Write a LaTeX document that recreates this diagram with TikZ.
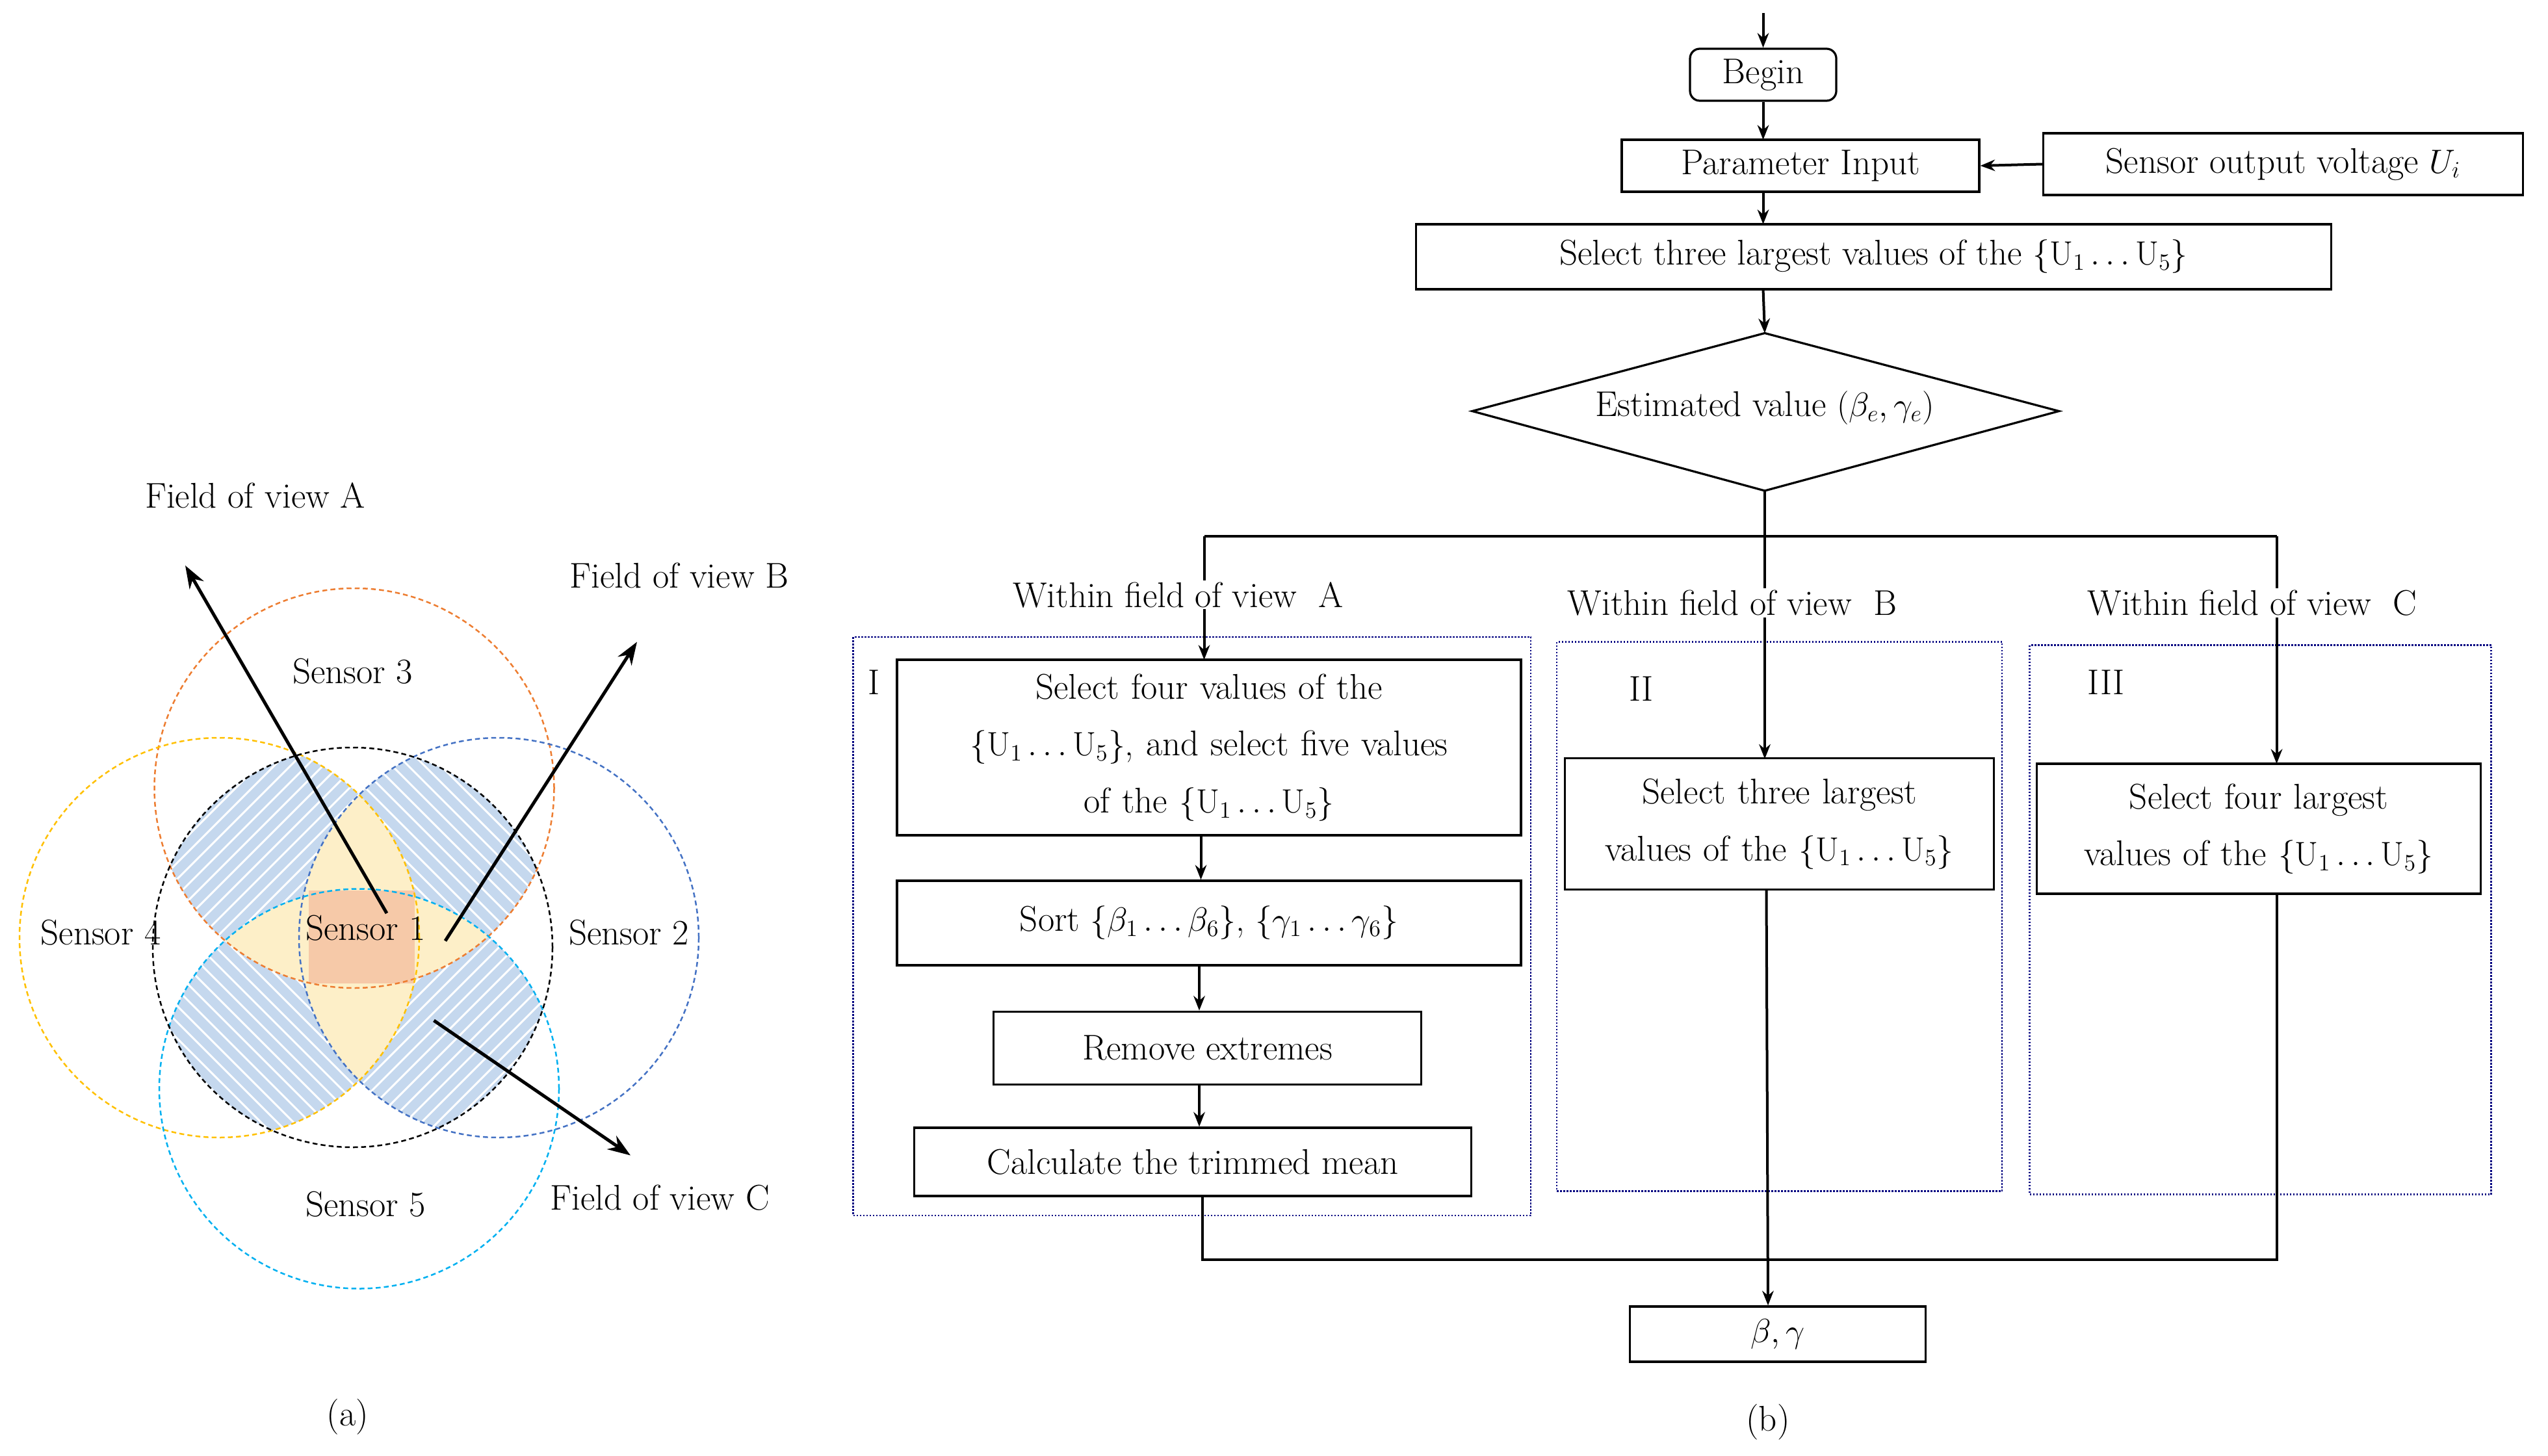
\documentclass[tikz,border=0pt]{standalone}
\usetikzlibrary{arrows.meta}
\begin{document}
\begin{tikzpicture}[x=1pt,y=-1pt,
  every node/.style={font=\fontsize{22}{25}\selectfont},
  box/.style={draw,line width=1.3pt,inner sep=2pt},
  ln/.style={line width=1.6pt},
  arr/.style={line width=1.6pt,-{Stealth[length=9pt,width=7pt]}},
  farr/.style={line width=2pt,-{Stealth[length=14pt,width=10pt]}},
  grp/.style={draw=blue!50!black,densely dotted,line width=1pt},
  lbl/.style={fill=white,inner sep=1pt}]
\useasboundingbox (0,0) rectangle (1568,896);
\definecolor{cO}{HTML}{ED7D31}\definecolor{cB}{HTML}{4472C4}
\definecolor{cY}{HTML}{FFC000}\definecolor{cC}{HTML}{00B0F0}
\definecolor{fB}{HTML}{C5D8EE}\definecolor{fY}{HTML}{FDEFC8}\definecolor{fO}{HTML}{F6C9A8}
\def\Sone{(217,583) circle (123)}
\def\Stwo{(307,577) circle (123)}
\def\Sthree{(218,485) circle (123)}
\def\Sfour{(135,577) circle (123)}
\def\Sfive{(221,670) circle (123)}
% blue hatched regions
\foreach \A/\B/\d in {\Sthree/\Stwo/0,\Stwo/\Sfive/1,\Sfive/\Sfour/0,\Sfour/\Sthree/1}{
 \begin{scope}
  \clip \Sone; \clip \A; \clip \B;
  \fill[fB] (0,300) rectangle (500,800);
  \ifnum\d=0
   \foreach \t in {-500,-490,...,500}{\draw[white,line width=1.2pt] (\t,300)--({\t+500},800);}
  \else
   \foreach \t in {-500,-490,...,500}{\draw[white,line width=1.2pt] (\t,800)--({\t+500},300);}
  \fi
 \end{scope}}
% yellow triple regions
\foreach \A/\B/\C in {\Sthree/\Stwo/\Sfour,\Stwo/\Sthree/\Sfive,\Sfive/\Stwo/\Sfour,\Sfour/\Sthree/\Sfive}{
 \begin{scope}\clip \A; \clip \B; \fill[fY] \C; \end{scope}}
\fill[fO] (190,548) rectangle (255,605);
\draw[densely dashed,line width=1pt,cO] \Sthree;
\draw[densely dashed,line width=1pt,cB] \Stwo;
\draw[densely dashed,line width=1pt,cY] \Sfour;
\draw[densely dashed,line width=1pt,cC] \Sfive;
\draw[densely dashed,line width=1pt,black] \Sone;
\node (s3) at (217,413) {Sensor 3};
\node (s4) at (62,574) {Sensor 4};
\node (s1) at (225,571) {Sensor 1};
\node (s2) at (387,574) {Sensor 2};
\node (s5) at (225,741) {Sensor 5};
\node (fa) at (157,305) {Field of view A};
\node (fb) at (418,354) {Field of view B};
\node (fc) at (406,737) {Field of view C};
\node (la) at (214,872) {(a)};
\coordinate (a0) at (238,562); \coordinate (a1) at (114,348);
\coordinate (b0) at (274,579); \coordinate (b1) at (392,395);
\coordinate (c0) at (267,628); \coordinate (c1) at (388,711);
\draw[farr] (a0)--(a1); \draw[farr] (b0)--(b1); \draw[farr] (c0)--(c1);
% ---------- flowchart ----------
\coordinate (top) at (1085,8);
\node[box,rounded corners=6pt,minimum width=90pt,minimum height=32pt] (begin) at (1085,46) {Begin};
\node[box,minimum width=220pt,minimum height=32pt] (pin) at (1108,102) {Parameter Input};
\node[box,minimum width=295pt,minimum height=38pt] (sov) at (1405,101) {Sensor output voltage $U_i$};
\node[box,minimum width=563pt,minimum height=40pt] (s3l) at (1153,158) {Select three largest values of the $\{\mathrm{U}_1\ldots\mathrm{U}_5\}$};
\coordinate (dt) at (1086,205); \coordinate (db) at (1086,302);
\draw[line width=1.3pt] (906,253)--(dt)--(1267,253)--(db)--cycle;
\node (est) at (1086,251) {Estimated value $(\beta_e,\gamma_e)$};
\draw[arr] (top)--(begin.north);
\draw[arr] (begin.south)--(1085,86);
\draw[arr] (sov.west)--(pin.east);
\draw[arr] (1085,118)--(1085,138);
\draw[arr] (1085,178)--(dt);
\coordinate (j) at (1086,330);
\coordinate (jA) at (741,330); \coordinate (jC) at (1401,330);
\draw[ln] (db)--(j); \draw[ln] (jA)--(jC);
% groups
\draw[grp] (525,392) rectangle (942,748);
\draw[grp] (958,395) rectangle (1232,733);
\draw[grp] (1249,397) rectangle (1533,735);
\node at (538,420) {I};
\node at (1010,424) {II};
\node at (1296,420) {III};
\node[box,minimum width=384pt,minimum height=108pt,text width=376pt,align=center,font=\fontsize{22}{35}\selectfont] (a1b) at (744,460)
 {Select four values of the\\ $\{\mathrm{U}_1\ldots\mathrm{U}_5\}$, and select five values\\ of the $\{\mathrm{U}_1\ldots\mathrm{U}_5\}$};
\node[box,minimum width=384pt,minimum height=52pt] (a2b) at (744,568) {Sort $\{\mathrm{\beta}_1\ldots\beta_6\}$, $\{\gamma_1\ldots\gamma_6\}$};
\node[box,minimum width=263pt,minimum height=45pt] (a3b) at (743,645) {Remove extremes};
\node[box,minimum width=343pt,minimum height=42pt] (a4b) at (734,715) {Calculate the trimmed mean};
\node[box,minimum width=264pt,minimum height=81pt,text width=260pt,align=center,font=\fontsize{22}{35}\selectfont] (bb) at (1095,507) {Select three largest\\ values of the $\{\mathrm{U}_1\ldots\mathrm{U}_5\}$};
\node[box,minimum width=273pt,minimum height=80pt,text width=268pt,align=center,font=\fontsize{22}{35}\selectfont] (cb) at (1390,510) {Select four largest\\ values of the $\{\mathrm{U}_1\ldots\mathrm{U}_5\}$};
\node[box,minimum width=182pt,minimum height=34pt] (res) at (1094,821) {$\beta,\gamma$};
\draw[arr] (jA)--(741,406);
\draw[arr] (1086,330)--(1086,467);
\draw[arr] (jC)--(1401,470);
\node[lbl] (wa) at (725,366) {Within field of view\ \ A};
\node[lbl] (wb) at (1066,371) {Within field of view\ \ B};
\node[lbl] (wc) at (1386,371) {Within field of view\ \ C};
\draw[arr] (a1b.south -| 739,0)--(a2b.north -| 739,0);
\draw[arr] (a2b.south -| 738,0)--(a3b.north -| 738,0);
\draw[arr] (a3b.south -| 738,0)--(a4b.north -| 738,0);
\coordinate (kA) at (740,775); \coordinate (kC) at (1401,775);
\draw[ln] (740,736)--(kA)--(kC)--(1401,550);
\draw[arr] (1087,548)--(res.north -| 1088,0);
\node (lb) at (1088,875) {(b)};
\end{tikzpicture}
\end{document}
